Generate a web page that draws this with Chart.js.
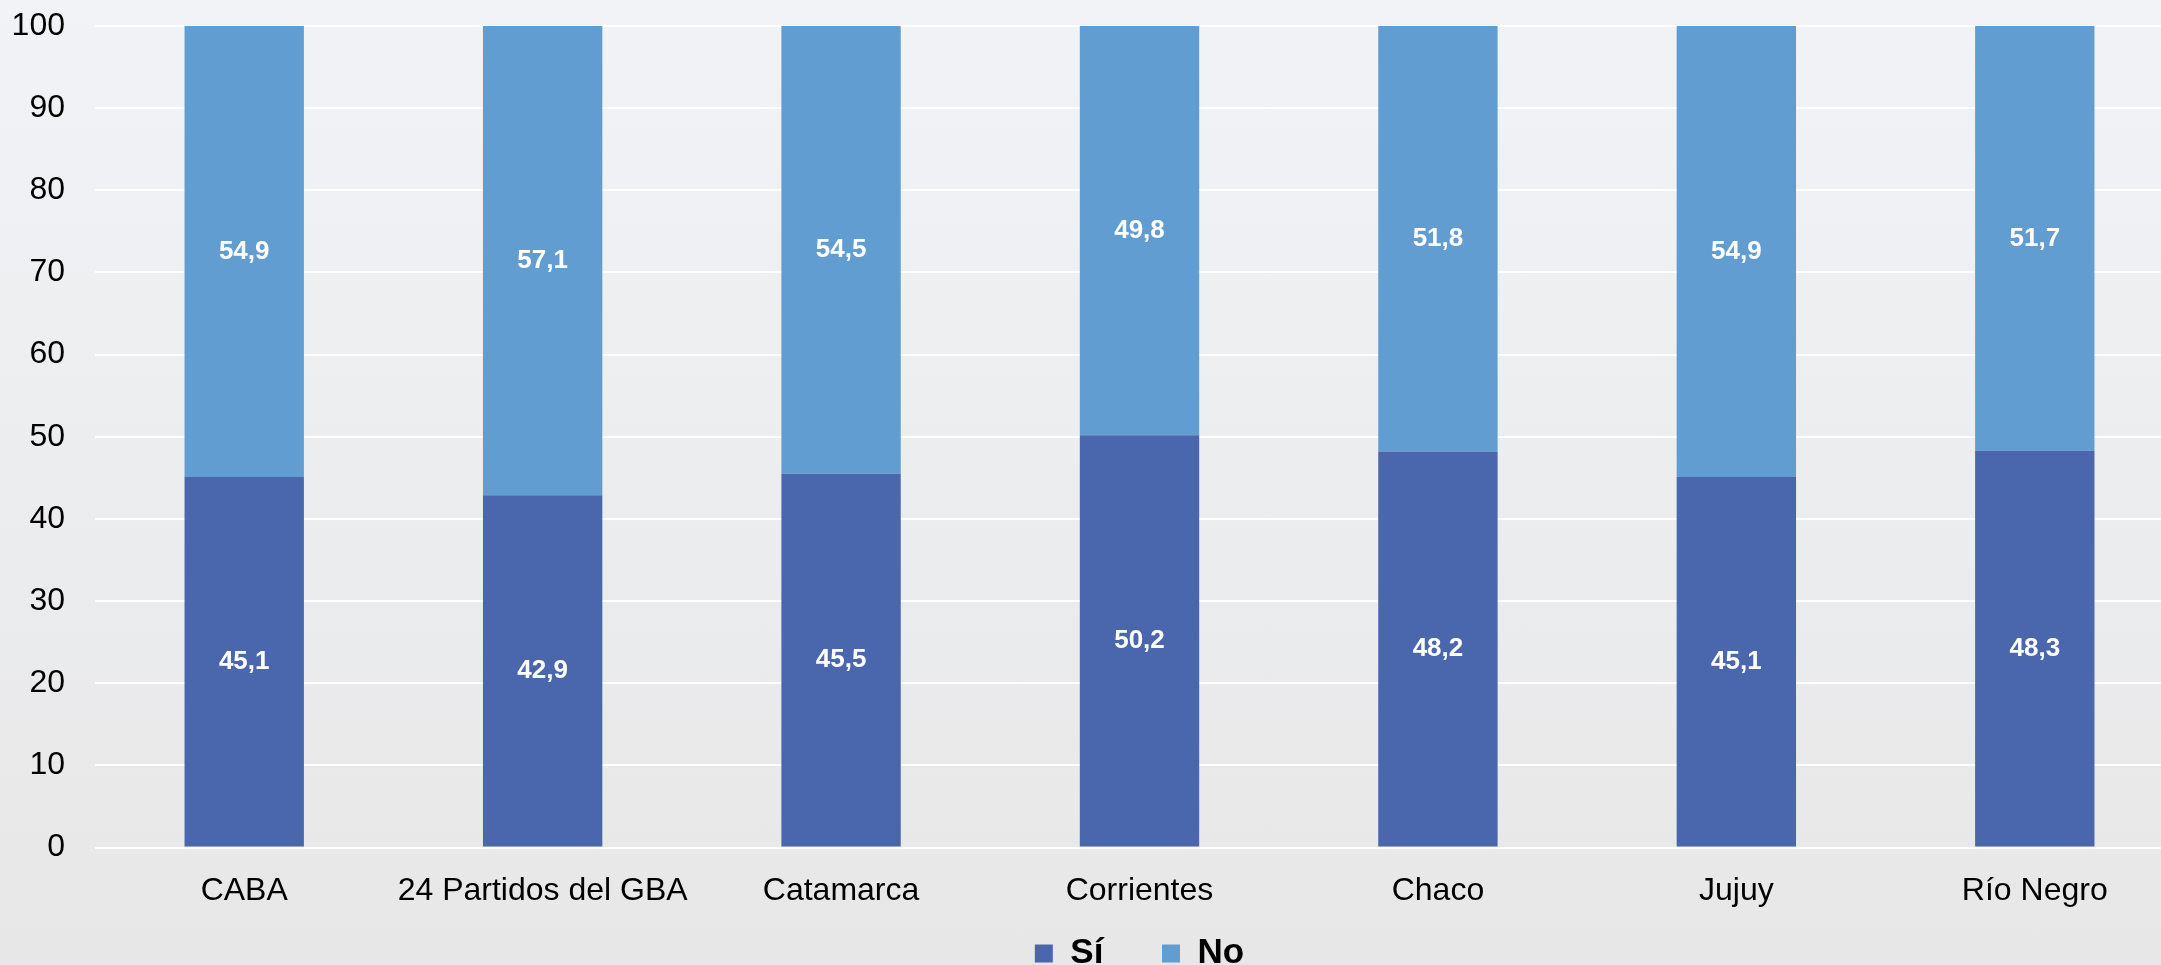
<!DOCTYPE html>
<html>
<head>
<meta charset="utf-8">
<script src="https://cdn.jsdelivr.net/npm/chart.js@4/dist/chart.umd.min.js"></script>
<style>
  html, body {
    margin: 0;
    padding: 0;
    overflow: hidden;
    width: 2161px;
    height: 965px;
    background: linear-gradient(to bottom, #f2f3f7 0%, #e7e7e7 100%);
  }
  #wrap {
    position: relative;
    width: 2200px;
    height: 965px;
  }
</style>
</head>
<body>
<div id="wrap"><canvas id="chart"></canvas></div>
<script>
let categories = ["CABA", "24 Partidos del GBA", "Catamarca", "Corrientes", "Chaco", "Jujuy", "Río Negro"];
let si_values = [45.1, 42.9, 45.5, 50.2, 48.2, 45.1, 48.3];
let no_values = [54.9, 57.1, 54.5, 49.8, 51.8, 54.9, 51.7];
let y_ticks = [0, 10, 20, 30, 40, 50, 60, 70, 80, 90, 100];

let color_si = "#4a67ae";
let color_no = "#629dd1";
let font_family = "'Liberation Sans', Arial, sans-serif";

// white values in the middle of each segment
let barLabels = {
  id: "barLabels",
  afterDatasetsDraw(chart) {
    let ctx = chart.ctx;
    ctx.save();
    ctx.fillStyle = "#ffffff";
    ctx.font = "bold 26px " + font_family;
    ctx.textAlign = "center";
    ctx.textBaseline = "middle";
    chart.data.datasets.forEach((ds, i) => {
      let meta = chart.getDatasetMeta(i);
      meta.data.forEach((bar, j) => {
        let txt = ds.data[j].toFixed(1).replace(".", ",");
        ctx.fillText(txt, bar.x, (bar.y + bar.base) / 2);
      });
    });
    ctx.restore();
  },
};

let config = {
  type: "bar",
  data: {
    labels: categories,
    datasets: [
      {
        label: "Sí",
        data: si_values,
        backgroundColor: color_si,
        barPercentage: 0.4,
        categoryPercentage: 1,
      },
      {
        label: "No",
        data: no_values,
        backgroundColor: color_no,
        barPercentage: 0.4,
        categoryPercentage: 1,
      },
    ],
  },
  options: {
    responsive: true,
    maintainAspectRatio: false,
    animation: false,
    layout: {
      padding: { left: 0, right: 16, top: 26, bottom: -16 },
    },
    plugins: {
      tooltip: { enabled: false },
      legend: {
        position: "bottom",
        fullSize: false,
        labels: {
          color: "#000",
          boxWidth: 18,
          boxHeight: 18,
          padding: 10,
          font: { family: font_family, size: 35, weight: "bold" },
          generateLabels: (chart) => {
            let items = Chart.defaults.plugins.legend.labels.generateLabels(chart);
            // widen the gap after the first entry
            items[0].text = items[0].text + "     ";
            return items;
          },
        },
      },
    },
    scales: {
      x: {
        stacked: true,
        grid: { display: false },
        border: { display: false },
        ticks: {
          color: "#000",
          padding: 16,
          maxRotation: 0,
          autoSkip: false,
          font: { family: font_family, size: 32 },
        },
      },
      y: {
        stacked: true,
        min: 0,
        max: 100,
        afterBuildTicks: (axis) => {
          axis.ticks = y_ticks.map((v) => ({ value: v }));
        },
        afterFit: (axis) => {
          axis.width = 95;
          axis.paddingTop = 0;
          axis.paddingBottom = 0;
        },
        grid: { color: "#ffffff", lineWidth: 2, drawTicks: false },
        border: { display: false },
        ticks: {
          color: "#000",
          padding: 30,
          font: { family: font_family, size: 32 },
        },
      },
    },
  },
  plugins: [barLabels],
};

let chart = new Chart(document.getElementById("chart"), config);
</script>
</body>
</html>
